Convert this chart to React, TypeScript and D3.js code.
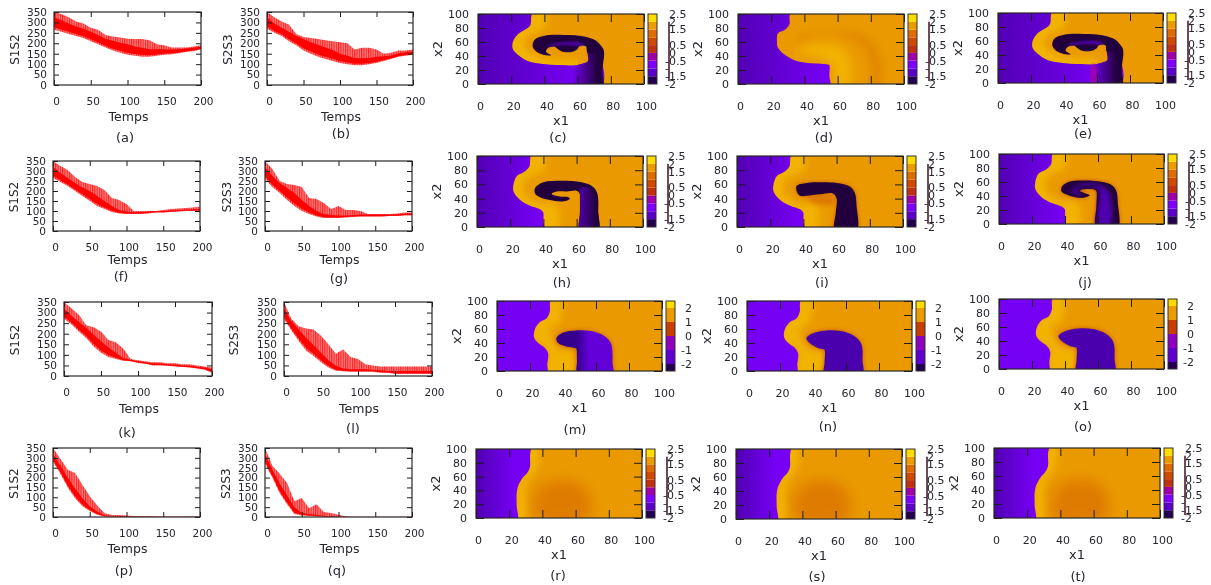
import React, { useEffect, useRef } from 'react';
import * as d3 from 'd3';

type Pt = [number, number];
type Layer = { pts: Pt[]; fill: string; ramp?: [number, number, string]; blur?: number };

// Sampling of the time axis for the envelopes
const timeKnots = [0, 10, 20, 30, 40, 50, 60, 70, 80, 90, 100, 110, 120, 130, 140, 150, 160, 170, 180, 190, 200];

// Envelopes: spike tops, top of solid band, band floor
const upperA = [350, 340, 325, 305, 295, 275, 265, 240, 232, 228, 222, 220, 220, 215, 195, 190, 180, 180, 180, 185, 190];
const coreA = [325, 310, 295, 280, 270, 255, 240, 222, 212, 202, 195, 185, 178, 172, 172, 172, 170, 172, 175, 178, 184];
const lowerA = [265, 255, 245, 235, 225, 210, 195, 180, 165, 155, 145, 140, 135, 135, 140, 145, 148, 152, 158, 163, 170];
const upperB = [350, 325, 305, 290, 245, 230, 225, 220, 215, 210, 205, 200, 170, 178, 178, 170, 150, 155, 165, 165, 170];
const coreB = [325, 295, 275, 255, 235, 220, 205, 192, 180, 168, 150, 140, 130, 128, 130, 135, 138, 142, 152, 157, 162];
const lowerB = [270, 250, 235, 210, 190, 165, 150, 135, 125, 115, 105, 100, 95, 95, 100, 105, 115, 125, 135, 140, 145];
const upperF = [350, 325, 305, 270, 245, 235, 225, 205, 165, 155, 135, 100, 100, 100, 100, 105, 110, 112, 115, 118, 122];
const coreF = [320, 290, 265, 240, 218, 200, 175, 150, 125, 105, 97, 94, 95, 97, 99, 100, 102, 104, 106, 108, 110];
const lowerF = [265, 245, 225, 200, 175, 150, 125, 110, 95, 88, 85, 85, 85, 88, 92, 92, 95, 98, 100, 100, 100];
const upperG = [350, 310, 250, 235, 230, 220, 165, 160, 140, 110, 125, 105, 105, 100, 85, 85, 85, 85, 88, 92, 92];
const coreG = [320, 275, 240, 215, 190, 155, 125, 100, 85, 80, 78, 78, 80, 82, 82, 82, 82, 82, 84, 86, 87];
const lowerG = [260, 220, 190, 155, 125, 100, 85, 72, 65, 65, 65, 68, 70, 72, 72, 72, 72, 75, 75, 78, 78];
const upperK = [350, 320, 290, 240, 230, 210, 170, 160, 130, 80, 75, 70, 65, 65, 60, 60, 55, 55, 50, 45, 40];
const coreK = [320, 285, 255, 228, 195, 165, 135, 110, 85, 77, 70, 65, 60, 59, 56, 54, 50, 49, 44, 40, 32];
const lowerK = [270, 245, 210, 180, 140, 110, 90, 80, 72, 70, 62, 58, 50, 50, 48, 45, 42, 40, 35, 30, 15];
const upperL = [350, 270, 235, 225, 220, 190, 150, 105, 125, 90, 80, 55, 50, 45, 45, 45, 45, 45, 45, 45, 45];
const coreL = [320, 260, 220, 180, 145, 110, 75, 48, 36, 32, 32, 32, 30, 27, 24, 24, 24, 24, 24, 24, 24];
const lowerL = [270, 215, 165, 120, 95, 65, 40, 25, 22, 20, 20, 20, 20, 15, 15, 10, 10, 10, 10, 10, 10];
const upperP = [350, 295, 240, 223, 164, 105, 60, 20, 10, 10, 8, 5, 4, 4, 2, 1, 1, 1, 1, 1, 1];
const coreP = [320, 260, 200, 145, 95, 55, 28, 9, 4, 3, 2, 1, 1, 1, 1, 1, 1, 1, 1, 1, 1];
const lowerP = [280, 220, 150, 95, 55, 30, 12, 2, 1, 0, 0, 0, 0, 0, 0, 0, 0, 0, 0, 0, 0];
const upperQ = [350, 260, 220, 172, 80, 96, 45, 65, 25, 20, 12, 3, 1, 1, 1, 1, 1, 1, 1, 1, 1];
const coreQ = [320, 240, 170, 110, 50, 22, 15, 12, 6, 3, 1, 1, 0, 0, 0, 0, 0, 0, 0, 0, 0];
const lowerQ = [270, 200, 120, 65, 15, 8, 5, 3, 1, 0, 0, 0, 0, 0, 0, 0, 0, 0, 0, 0, 0];

// Ticks
const timeTicks = [0, 50, 100, 150, 200];
const countTicks = [0, 50, 100, 150, 200, 250, 300, 350];
const fieldTicks = [0, 20, 40, 60, 80, 100];
const cbTicksFine = [-2, -1.5, -1, -0.5, 0, 0.5, 1.5, 2, 2.5];
const cbTicksCoarse = [-2, -1, 0, 1, 2];

// Colour bars, bottom band first
const bandsFine = ['#200050', '#5a00c8', '#8000ff', '#a000a8', '#c03010', '#d04800', '#de6c00', '#ec9c00', '#ffdc00'];
const bandsCoarse = ['#200050', '#6000d0', '#9000c0', '#c83c00', '#ec9c00', '#ffdc00'];
const bandEdgesFine = [-2, -1.5, -1, -0.5, 0, 0.5, 1, 1.5, 2, 2.5];
const bandEdgesCoarse = [-2.5, -2, -1, 0, 1, 2, 2.5];

// Field colours
const ORANGE = '#ea9a00';
const YELLOW = '#f2b200';
const DEEP = '#de7a00';
const VIOLET = '#7600f4';
const INDIGO = '#5200b4';
const INK = '#22003c';

// Contours of the fields, in x1/x2 units
const frontC: Pt[] = [[-5, 108], [32, 108], [32, 95], [31.5, 84], [28, 77], [24, 71], [21, 60], [21, 50], [25, 40], [30, 33], [38, 29], [50, 27], [60, 27], [66, 31], [74, 30], [74, -5], [-5, -5]];
const bandC: Pt[] = [[58, -5], [58, 24], [66, 32], [66, 50], [70, 60], [75.5, 50], [75, 20], [75, -5]];
const ringC: Pt[] = [[75, 45], [74, 54], [71, 62], [64, 68], [52, 70], [40, 69], [34, 63], [33, 53], [36, 45], [41, 41], [44, 41], [41, 46], [42, 51], [46, 53.5], [48, 50], [51, 46], [57, 46], [60, 50], [61, 54], [65, 54], [66, 45]];
const capC: Pt[] = [[42, 54], [47, 58], [55, 60], [62, 59], [64, 56], [60, 55], [52, 56], [47, 55]];
const glowC: Pt[] = [[34, 105], [40, 105], [40, 80], [30, 68], [28, 55], [34, 42], [45, 36], [60, 33], [60, 22], [30, 22], [14, 50], [26, 86]];

const frontD: Pt[] = [[-5, 108], [31, 108], [31, 95], [31, 85], [28, 77], [24, 72], [23.5, 60], [24, 52], [28, 42], [34, 34], [42, 30], [50, 29], [54, 28], [55, 27], [55, 12], [55, -5], [-5, -5]];
const deepD: Pt[] = [[38, 62], [50, 72], [65, 68], [76, 50], [80, 20], [78, -5], [86, -5], [86, 40], [76, 70], [55, 76], [35, 66]];
const warmD: Pt[] = [[35, 45], [50, 38], [58, 20], [58, -5], [66, -5], [68, 30], [62, 52], [45, 56]];

const frontH: Pt[] = [[-5, 108], [32, 108], [32, 95], [31.5, 85], [28, 77], [24, 72], [22, 60], [22, 50], [26, 38], [32, 30], [38, 25], [39.5, 22], [40, 20], [40, 8], [40, -5], [-5, -5]];
const ringH: Pt[] = [[73, -5], [73, 20], [73, 40], [72, 50], [69, 58], [63, 63], [50, 65], [40, 63], [35, 55], [35, 47], [38, 42], [44, 38], [50, 36], [54, 37], [56, 40], [55, 42], [50, 43], [46, 45], [45, 47], [48, 50], [54, 50], [60, 51], [62, 46], [62, 20], [62, -5]];
const bandH: Pt[] = [[62, -5], [62, 20], [62, 48], [62, 54], [66, 56], [70, 50], [73, 20], [73, -5]];
const glowH: Pt[] = [[34, 105], [40, 105], [40, 80], [30, 68], [28, 50], [36, 34], [48, 30], [48, -5], [38, -5], [30, 22], [14, 50], [26, 86]];

const blobI: Pt[] = [[72, -5], [72, 30], [71, 48], [68, 57], [60, 62], [50, 63], [42, 62], [36, 58], [36, 50], [38, 44], [42, 44], [50, 46], [58, 47], [60, 40], [59.5, 20], [59, -5]];
const deepI: Pt[] = [[42, 42], [58, 44], [58, 32], [46, 34]];

const blobJ: Pt[] = [[72, -5], [72, 30], [71, 48], [68, 56], [60, 61], [50, 62], [42, 60], [38, 53], [38, 46], [42, 41], [47, 38], [52, 38], [55, 41], [52, 44], [49, 47], [50, 49], [58, 49], [59, 47], [59, 25], [59, -5]];
const coreJ: Pt[] = [[44, 47], [47, 42], [50, 41], [48, 46], [47, 51], [60, 51], [60, -5], [67, -5], [68, 30], [66, 48], [60, 56], [50, 57]];

const frontM: Pt[] = [[-5, 108], [32, 108], [32, 95], [32, 85], [30, 75], [26, 70], [23, 60], [22.5, 48], [25, 40], [29, 33], [31, 25], [30.5, 10], [30, -5], [-5, -5]];
const blobM: Pt[] = [[70, -5], [70, 12], [70, 25], [69, 40], [65, 50], [57, 57], [48, 58], [40, 55], [36, 47], [37, 40], [42, 35], [47, 33], [48, 32], [48.5, 15], [49, -5]];
const blobN: Pt[] = [[70, -5], [70, 15], [70, 30], [69, 40], [65, 50], [57, 57], [48, 58], [40, 54], [36, 47], [38, 40], [43, 33], [46, 31], [47, 30], [47, 12], [47, -5]];
const glowM: Pt[] = [[33, 105], [38, 105], [38, 70], [32, 60], [34, 42], [38, 30], [46, 28], [46, -5], [30, -5], [30, 30], [18, 50], [28, 80]];

const frontR: Pt[] = [[-5, 108], [32.5, 108], [32.5, 90], [32.5, 74], [31, 66], [28, 58], [25.5, 47], [24.5, 36], [24.5, 18], [24.5, -5], [-5, -5]];
const deepR: Pt[] = [[36, 0], [36, 35], [44, 52], [60, 52], [68, 35], [68, 0], [60, -8], [44, -8]];
const glowR: Pt[] = [[33, 105], [37, 105], [37, 72], [32, 56], [30, 42], [29, -5], [24, -5], [24, 40], [28, 64]];

const layersC: Layer[] = [
  { pts: glowC, fill: YELLOW, blur: 3 },
  { pts: frontC, fill: VIOLET, ramp: [0, 62, INDIGO] },
  { pts: bandC, fill: INK, ramp: [56, 72, VIOLET] },
  { pts: ringC, fill: INK },
  { pts: capC, fill: INDIGO, blur: 1 },
];
const layersD: Layer[] = [
  { pts: deepD, fill: '#e28800', blur: 4 },
  { pts: warmD, fill: YELLOW, blur: 4 },
  { pts: frontD, fill: VIOLET, ramp: [0, 52, INDIGO] },
];
const layersE: Layer[] = [
  ...layersC,
  { pts: [[57, -5], [57, 26], [59, 26], [59, -5]], fill: '#a000b0', blur: 1 },
];
const layersH: Layer[] = [
  { pts: glowH, fill: YELLOW, blur: 3 },
  { pts: frontH, fill: VIOLET, ramp: [0, 38, INDIGO] },
  { pts: ringH, fill: INK },
  { pts: bandH, fill: INK, ramp: [60, 72, INDIGO] },
];
const layersI: Layer[] = [
  { pts: glowH, fill: YELLOW, blur: 3 },
  { pts: deepI, fill: DEEP, blur: 2 },
  { pts: frontH, fill: VIOLET, ramp: [0, 38, INDIGO] },
  { pts: blobI, fill: '#c85a00', blur: 2 },
  { pts: blobI, fill: INK },
];
const layersJ: Layer[] = [
  { pts: glowH, fill: YELLOW, blur: 3 },
  { pts: frontH, fill: VIOLET, ramp: [0, 38, INDIGO] },
  { pts: blobJ, fill: '#c85a00', blur: 2 },
  { pts: blobJ, fill: INK },
  { pts: coreJ, fill: '#5000b0', blur: 2 },
];
const layersM: Layer[] = [
  { pts: glowM, fill: YELLOW, blur: 3 },
  { pts: frontM, fill: VIOLET },
  { pts: blobM, fill: '#c85a00', blur: 2.5 },
  { pts: blobM, fill: '#6400d8', ramp: [48, 56, '#34008c'] },
];
const layersN: Layer[] = [
  { pts: glowM, fill: YELLOW, blur: 3 },
  { pts: frontM, fill: VIOLET },
  { pts: blobN, fill: '#c85a00', blur: 2.5 },
  { pts: blobN, fill: '#4c00ae' },
];
const layersR: Layer[] = [
  { pts: deepR, fill: DEEP, blur: 7 },
  { pts: glowR, fill: YELLOW, blur: 3 },
  { pts: frontR, fill: VIOLET, ramp: [0, 24, INDIGO] },
];

const linePanels = [
  { tag: '(a)', name: 'S1S2', upper: upperA, core: coreA, lower: lowerA, box: [54, 12, 201, 85], temps: 32, cap: [125, 137], yLab: 15 },
  { tag: '(b)', name: 'S2S3', upper: upperB, core: coreB, lower: lowerB, box: [267, 12, 413, 85], temps: 32, cap: [341, 133], yLab: 228 },
  { tag: '(f)', name: 'S1S2', upper: upperF, core: coreF, lower: lowerF, box: [53, 161, 200, 231], temps: 29, cap: [121, 276], yLab: 14 },
  { tag: '(g)', name: 'S2S3', upper: upperG, core: coreG, lower: lowerG, box: [265, 161, 412, 231], temps: 29, cap: [339, 278], yLab: 227 },
  { tag: '(k)', name: 'S1S2', upper: upperK, core: coreK, lower: lowerK, box: [64, 302, 212, 376], temps: 33, cap: [127, 432], yLab: 15 },
  { tag: '(l)', name: 'S2S3', upper: upperL, core: coreL, lower: lowerL, box: [284, 302, 432, 376], temps: 33, cap: [353, 428], yLab: 234 },
  { tag: '(p)', name: 'S1S2', upper: upperP, core: coreP, lower: lowerP, box: [53, 448, 200, 517], temps: 32, cap: [124, 570], yLab: 14 },
  { tag: '(q)', name: 'S2S3', upper: upperQ, core: coreQ, lower: lowerQ, box: [265, 448, 412, 517], temps: 32, cap: [337, 570], yLab: 226 },
];

const fieldPanels = [
  { tag: '(c)', layers: layersC, box: [478, 14, 644, 84], cap: [558, 137], coarse: false },
  { tag: '(d)', layers: layersD, box: [738, 14, 904, 84], cap: [824, 137], coarse: false },
  { tag: '(e)', layers: layersE, box: [998, 13, 1163, 83], cap: [1083, 133], coarse: false },
  { tag: '(h)', layers: layersH, box: [477, 156, 643, 227], cap: [562, 282], coarse: false },
  { tag: '(i)', layers: layersI, box: [737, 156, 903, 227], cap: [822, 282], coarse: false },
  { tag: '(j)', layers: layersJ, box: [999, 154, 1164, 224], cap: [1085, 282], coarse: false },
  { tag: '(m)', layers: layersM, box: [497, 301, 662, 371], cap: [575, 429], coarse: true },
  { tag: '(n)', layers: layersN, box: [747, 301, 912, 371], cap: [828, 426], coarse: true },
  { tag: '(o)', layers: layersN, box: [999, 299, 1164, 369], cap: [1083, 426], coarse: true },
  { tag: '(r)', layers: layersR, box: [476, 449, 642, 518], cap: [558, 575], coarse: false },
  { tag: '(s)', layers: layersR, box: [736, 449, 902, 519], cap: [817, 576], coarse: false },
  { tag: '(t)', layers: layersR, box: [994, 448, 1160, 518], cap: [1078, 576], coarse: false },
];

const FONT = '"DejaVu Sans", sans-serif';
const TEXT = '#26262e';
const RED = '#ff0000';

const App = () => {
  const ref = useRef<SVGSVGElement>(null);

  useEffect(() => {
    const svg = d3.select(ref.current);
    svg.selectAll('*').remove();
    const defs = svg.append('defs');

    const soft = defs.append('filter').attr('id', 'soft').attr('filterUnits', 'userSpaceOnUse')
      .attr('x', 0).attr('y', 0).attr('width', 1211).attr('height', 585);
    soft.append('feGaussianBlur').attr('stdDeviation', 0.4);

    [1, 2, 2.5, 3, 4, 7].forEach(b => {
      defs.append('filter').attr('id', `blur${String(b).replace('.', '_')}`)
        .attr('x', '-50%').attr('y', '-50%').attr('width', '200%').attr('height', '200%')
        .append('feGaussianBlur').attr('stdDeviation', b);
    });

    const hatch = defs.append('pattern').attr('id', 'hatch').attr('patternUnits', 'userSpaceOnUse')
      .attr('width', 2.3).attr('height', 10);
    hatch.append('rect').attr('width', 2.3).attr('height', 10).attr('fill', '#ff8080');
    hatch.append('rect').attr('width', 1.1).attr('height', 10).attr('fill', '#ff2020');

    const root = svg.append('g').attr('filter', 'url(#soft)').attr('font-family', FONT);

    const caption = (tag: string, x: number, y: number) => {
      root.append('text').attr('x', x).attr('y', y).attr('dy', '0.35em').attr('text-anchor', 'middle')
        .attr('font-size', 13).attr('fill', TEXT).text(tag);
    };
    const axisLabel = (label: string, x: number, y: number, size: number, rotate = false) => {
      root.append('text').attr('text-anchor', 'middle').attr('dy', '0.35em').attr('font-size', size)
        .attr('fill', TEXT).attr('transform', `translate(${x},${y})${rotate ? ' rotate(-90)' : ''}`).text(label);
    };
    // Frame plus inward ticks on all four sides, labels on bottom and left only
    const drawAxes = (
      x: d3.ScaleLinear<number, number>, y: d3.ScaleLinear<number, number>,
      xt: number[], yt: number[], len: number, xPad: number, yPad: number, size: number,
    ) => {
      const [x0, x1] = x.range();
      const [y0, y1] = y.range();
      const g = root.append('g');
      const fix = (a: d3.Selection<SVGGElement, unknown, null, undefined>) => {
        a.selectAll('.domain').remove();
        a.selectAll('line').attr('stroke', '#1c1c1c');
        a.selectAll('text').attr('fill', TEXT);
        a.attr('font-size', size).attr('font-family', FONT);
      };
      const bottom = g.append('g').attr('transform', `translate(0,${y0})`)
        .call(d3.axisBottom(x).tickValues(xt).tickSize(-len).tickPadding(xPad));
      bottom.selectAll('text').attr('dx', 2);
      g.append('g').attr('transform', `translate(0,${y1})`)
        .call(d3.axisTop(x).tickValues(xt).tickSize(-len).tickFormat(() => '')).call(fix);
      g.append('g').attr('transform', `translate(${x0},0)`)
        .call(d3.axisLeft(y).tickValues(yt).tickSize(-len).tickPadding(yPad)).call(fix);
      g.append('g').attr('transform', `translate(${x1},0)`)
        .call(d3.axisRight(y).tickValues(yt).tickSize(-len).tickFormat(() => '')).call(fix);
      fix(bottom);
      g.append('rect').attr('x', x0).attr('y', y1).attr('width', x1 - x0).attr('height', y0 - y1)
        .attr('fill', 'none').attr('stroke', '#2a2a2a').attr('stroke-width', 1.2);
    };

    // Line panels
    linePanels.forEach(p => {
      const [l, t, r, b] = p.box;
      const x = d3.scaleLinear().domain([0, 200]).range([l, r]);
      const y = d3.scaleLinear().domain([0, 350]).range([b, t]);
      const spikes = d3.area<number>().x(d => x(d)).y1((_, i) => y(p.upper[i])).y0((_, i) => y(p.lower[i]));
      const solid = d3.area<number>().x(d => x(d)).y1((_, i) => y(p.core[i]))
        .y0((_, i) => y(p.lower[i] + (p.core[i] - p.lower[i]) * 0.2));
      root.append('path').attr('d', spikes(timeKnots)).attr('fill', 'url(#hatch)');
      root.append('path').attr('d', solid(timeKnots)).attr('fill', RED);
      drawAxes(x, y, timeTicks, countTicks, 5, 13, 7, 10.5);
      axisLabel(p.name, p.yLab, (t + b) / 2 + 1, 12, true);
      axisLabel('Temps', (l + r) / 2 + 1, b + p.temps, 12.5);
      caption(p.tag, p.cap[0], p.cap[1]);
    });

    // Field panels
    fieldPanels.forEach((p, idx) => {
      const [l, t, r, b] = p.box;
      const x = d3.scaleLinear().domain([0, 100]).range([l, r]);
      const y = d3.scaleLinear().domain([0, 100]).range([b, t]);
      const clipId = `clip${idx}`;
      defs.append('clipPath').attr('id', clipId).append('rect')
        .attr('x', l).attr('y', t).attr('width', r - l).attr('height', b - t);
      const map = root.append('g').attr('clip-path', `url(#${clipId})`);
      map.append('rect').attr('x', l).attr('y', t).attr('width', r - l).attr('height', b - t).attr('fill', ORANGE);
      const contour = d3.line<Pt>().x(d => x(d[0])).y(d => y(d[1])).curve(d3.curveCatmullRomClosed.alpha(0.5));
      p.layers.forEach((layer, li) => {
        let fill = layer.fill;
        if (layer.ramp) {
          const id = `ramp${idx}_${li}`;
          const grad = defs.append('linearGradient').attr('id', id).attr('gradientUnits', 'userSpaceOnUse')
            .attr('x1', x(layer.ramp[0])).attr('x2', x(layer.ramp[1])).attr('y1', 0).attr('y2', 0);
          grad.append('stop').attr('offset', 0).attr('stop-color', layer.ramp[2]);
          grad.append('stop').attr('offset', 1).attr('stop-color', layer.fill);
          fill = `url(#${id})`;
        }
        const shape = map.append('path').attr('d', contour(layer.pts)).attr('fill', fill);
        if (layer.blur) shape.attr('filter', `url(#blur${String(layer.blur).replace('.', '_')})`);
      });
      drawAxes(x, y, fieldTicks, fieldTicks, 8, 18, 9, 11);
      axisLabel('x2', l - 41, (t + b) / 2, 13, true);
      axisLabel('x1', (l + r) / 2, b + 36, 13);
      caption(p.tag, p.cap[0], p.cap[1]);

      // Colour bar
      const edges = p.coarse ? bandEdgesCoarse : bandEdgesFine;
      const bands = p.coarse ? bandsCoarse : bandsFine;
      const ticks = p.coarse ? cbTicksCoarse : cbTicksFine;
      const cb = d3.scaleLinear().domain(d3.extent(edges) as [number, number]).range([b, t]);
      const cbL = r + 4;
      const cbR = cbL + 9;
      bands.forEach((c, i) => {
        root.append('rect').attr('x', cbL).attr('width', cbR - cbL).attr('y', cb(edges[i + 1]))
          .attr('height', cb(edges[i]) - cb(edges[i + 1])).attr('fill', c);
      });
      root.append('rect').attr('x', cbL).attr('y', t).attr('width', cbR - cbL).attr('height', b - t)
        .attr('fill', 'none').attr('stroke', '#333').attr('stroke-width', 1);
      const labelX = cbR + (p.coarse ? 6 : 8);
      ticks.forEach(v => {
        root.append('text').attr('x', v < 0 ? labelX : labelX + 4).attr('y', cb(v)).attr('dy', '0.35em')
          .attr('font-size', 11).attr('fill', TEXT).text(v === -1 && !p.coarse ? '-' : String(v));
      });
      if (!p.coarse) {
        // Stray vertical rule running through the overlapping labels
        root.append('line').attr('x1', labelX + 4).attr('x2', labelX + 4)
          .attr('y1', cb(2)).attr('y2', cb(-1.8)).attr('stroke', '#3a1020').attr('stroke-width', 1.5);
      }
    });
  }, []);

  return <svg ref={ref} width={1211} height={585} style={{ position: 'absolute', left: 0, top: 0 }} />;
};

export default App;
